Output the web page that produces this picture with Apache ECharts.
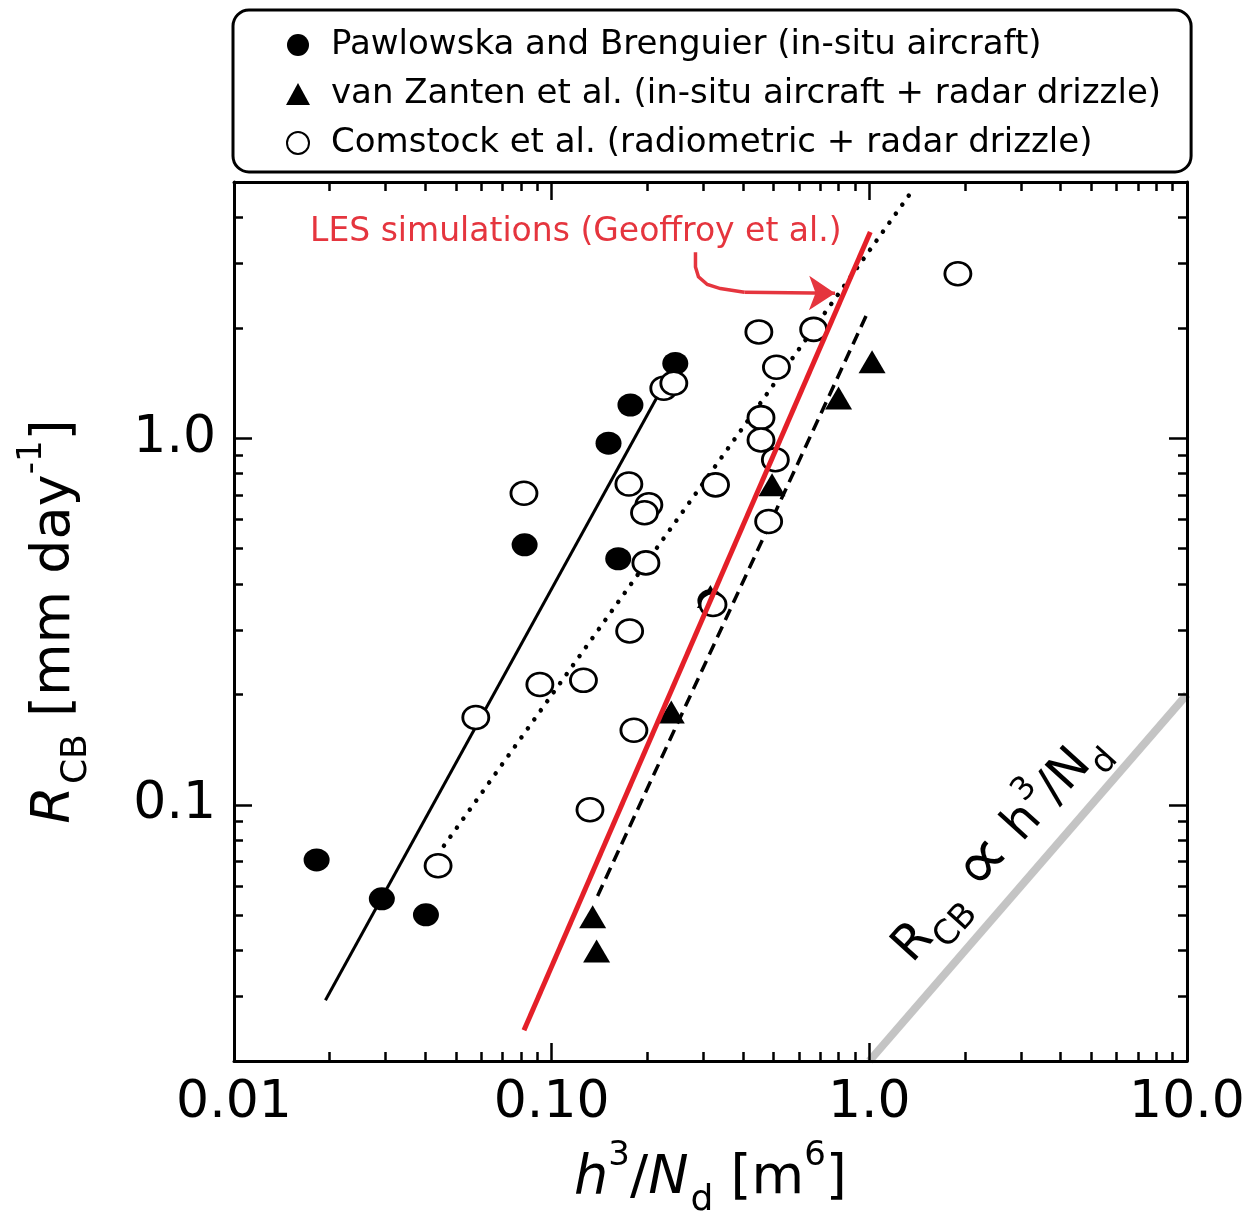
<!DOCTYPE html>
<html><head><meta charset="utf-8">
<script src="https://cdn.jsdelivr.net/npm/echarts@6/dist/echarts.min.js"></script>
<style>html,body{margin:0;padding:0;background:#fff}#c{width:1255px;height:1220px}</style>
</head><body><div id="c"></div>
<script>
const FONT = '"DejaVu Sans", "Open Sans", sans-serif';

// ---- axes ----
const xTickValues = [0.01, 0.1, 1, 10];
const xTickLabels = ['0.01', '0.10', '1.0', '10.0'];
const xMinorTicks = [0.02,0.03,0.04,0.05,0.06,0.07,0.08,0.09,0.2,0.3,0.4,0.5,0.6,0.7,0.8,0.9,2,3,4,5,6,7,8,9];
const yTickValues = [0.1, 1];
const yTickLabels = ['0.1', '1.0'];
const yMinorTicks = [0.02,0.03,0.04,0.05,0.06,0.07,0.08,0.09,0.2,0.3,0.4,0.5,0.6,0.7,0.8,0.9,2,3,4,5];

// ---- data ----
const pawX = [0.0182, 0.0292, 0.0402, 0.0822, 0.151, 0.177, 0.245, 0.162, 0.316];
const pawY = [0.0707, 0.0554, 0.0501, 0.512, 0.969, 1.232, 1.600, 0.469, 0.360];

const vzX = [0.1346, 0.1385, 0.238, 0.316, 0.494, 0.80, 1.02];
const vzY = [0.0495, 0.0399, 0.179, 0.370, 0.746, 1.288, 1.616];

const comX = [0.0439, 0.0577, 0.0918, 0.1259, 0.176, 0.1815, 0.132, 0.0818, 0.175, 0.2023, 0.196, 0.198, 0.2254, 0.2424, 0.322, 0.328, 0.449, 0.668, 0.510, 0.456, 0.456, 0.506, 0.482, 1.90];
const comY = [0.0682, 0.173, 0.213, 0.2185, 0.298, 0.1597, 0.0969, 0.708, 0.750, 0.658, 0.626, 0.457, 1.368, 1.412, 0.352, 0.746, 1.950, 1.981, 1.561, 1.138, 0.989, 0.873, 0.593, 2.81];

// fit lines (end points)
const pawFitX = [0.0194, 0.215];
const pawFitY = [0.0293, 1.298];
const comFitX = [0.0458, 1.378];
const comFitY = [0.0773, 4.79];
const vzFitX = [0.1395, 0.9856];
const vzFitY = [0.0564, 2.193];
const lesX = [0.0818, 1.007];
const lesY = [0.02426, 3.65];
const propX = [1, 10];
const propY = [0.02, 0.2];

// annotation arrow: curved stem, then straight shaft with head
const arrowCurveX = [0.2836, 0.2836, 0.2898, 0.3090, 0.3396, 0.4045];
const arrowCurveY = [3.215, 2.932, 2.757, 2.626, 2.560, 2.500];
const arrowShaftX = [0.4045, 0.78];
const arrowShaftY = [2.500, 2.486];

const names = [
  'Pawlowska and Brenguier (in-situ aircraft)',
  'van Zanten et al. (in-situ aircraft + radar drizzle)',
  'Comstock et al. (radiometric + radar drizzle)'
];

const zip = (a, b) => a.map((v, i) => [v, b[i]]);
const ELLIPSE = 'path://M0,10a10,10 0 1,0 20,0a10,10 0 1,0 -20,0';

function fmt(values, labels) {
  return v => {
    const i = values.findIndex(t => Math.abs(Math.log10(t / v)) < 0.01);
    return i >= 0 ? labels[i] : '';
  };
}

function axis(kind, pos, ticks, len, withLine, labelCfg) {
  const isX = kind === 'x';
  const a = {
    type: 'log', logBase: 10,
    min: isX ? 0.01 : 0.02, max: isX ? 10 : 5,
    position: pos,
    axisLine: { show: withLine, lineStyle: { color: '#000', width: 3 } },
    axisTick: { show: true, inside: true, length: len, customValues: ticks,
                lineStyle: { color: '#000', width: 2.5 } },
    axisLabel: { show: false },
    splitLine: { show: false },
    minorTick: { show: false },
    minorSplitLine: { show: false },
    z: 10
  };
  if (labelCfg) Object.assign(a, labelCfg);
  return a;
}

const rich = {
  i: { fontStyle: 'italic', fontSize: 54, fontFamily: FONT, color: '#000', lineHeight: 80, verticalAlign: 'middle' },
  n: { fontSize: 54, fontFamily: FONT, color: '#000', lineHeight: 80, verticalAlign: 'middle' },
  s: { fontSize: 36, fontFamily: FONT, color: '#000', lineHeight: 40, verticalAlign: 'bottom', padding: [0, 0, 0, 2] },
  p: { fontSize: 34, fontFamily: FONT, color: '#000', lineHeight: 42, verticalAlign: 'top' }
};

const chart = echarts.init(document.getElementById('c'), null, { renderer: 'canvas' });
chart.setOption({
  animation: false,
  backgroundColor: '#fff',
  grid: { left: 234, top: 182, width: 953, height: 879, outerBoundsMode: 'none', containLabel: false },
  legend: {
    orient: 'vertical', left: 233, top: 10,
    padding: [15, 30, 9, 53],
    itemGap: 9, itemWidth: 24, itemHeight: 22,
    borderColor: '#000', borderWidth: 3, borderRadius: 16,
    selectedMode: false,
    textStyle: { fontSize: 34, fontFamily: FONT, color: '#000', padding: [0, 0, 0, 16], lineHeight: 40 },
    data: names
  },
  xAxis: [
    axis('x', 'bottom', xTickValues, 18, true, {
      axisLabel: { show: true, customValues: xTickValues, formatter: fmt(xTickValues, xTickLabels),
                   fontSize: 52, fontFamily: FONT, color: '#000', margin: 16 },
      name: '{i|h}{p|3}{n|/}{i|N}{s|d}{n| [m}{p|6}{n|]}',
      nameLocation: 'middle', nameGap: 78,
      nameTextStyle: { fontSize: 54, fontFamily: FONT, color: '#000', lineHeight: 80, rich: rich }
    }),
    axis('x', 'bottom', xMinorTicks, 9, false),
    axis('x', 'top', xTickValues, 18, true),
    axis('x', 'top', xMinorTicks, 9, false)
  ],
  yAxis: [
    axis('y', 'left', yTickValues, 18, true, {
      axisLabel: { show: true, customValues: yTickValues, formatter: fmt(yTickValues, yTickLabels),
                   fontSize: 52, fontFamily: FONT, color: '#000', margin: 18 },
      name: '{i|R}{s|CB}{n| [mm day}{p|-1}{n|]}',
      nameLocation: 'middle', nameRotate: 90, nameGap: 139,
      nameTextStyle: { fontSize: 54, fontFamily: FONT, color: '#000', lineHeight: 80, rich: rich }
    }),
    axis('y', 'left', yMinorTicks, 9, false),
    axis('y', 'right', yTickValues, 18, true),
    axis('y', 'right', yMinorTicks, 9, false)
  ],
  graphic: [
    { type: 'text', left: 310, top: 216, z: 100,
      style: { text: 'LES simulations (Geoffroy et al.)', fill: '#e5353e', font: '33px ' + FONT } },
    { type: 'text', x: 1000, y: 848, rotation: 0.834, z: 100,
      style: {
        text: '{r|R}{s|CB}{r| }{q|\u221D}{r| h}{p|3}{r|/N}{s|d}',
        align: 'center', verticalAlign: 'middle',
        rich: {
          r: { fontSize: 49, fontFamily: FONT, fill: '#000', color: '#000', lineHeight: 74, verticalAlign: 'middle' },
          q: { fontSize: 72, fontFamily: FONT, fill: '#000', color: '#000', lineHeight: 74, verticalAlign: 'middle' },
          s: { fontSize: 34, fontFamily: FONT, fill: '#000', color: '#000', lineHeight: 38, verticalAlign: 'bottom' },
          p: { fontSize: 32, fontFamily: FONT, fill: '#000', color: '#000', lineHeight: 40, verticalAlign: 'top' }
        }
      } }
  ],
  series: [
    { type: 'line', data: zip(propX, propY), showSymbol: false, symbol: 'none', silent: true,
      lineStyle: { color: '#c4c4c4', width: 8 }, z: 1 },
    { type: 'line', data: zip(pawFitX, pawFitY), symbol: 'none', silent: true,
      lineStyle: { color: '#000', width: 3 }, z: 2 },
    { type: 'line', data: zip(comFitX, comFitY), symbol: 'none', silent: true,
      lineStyle: { color: '#000', width: 4.5, type: [0.1, 11], cap: 'round' }, z: 2 },
    { type: 'line', data: zip(vzFitX, vzFitY), symbol: 'none', silent: true,
      lineStyle: { color: '#000', width: 3.5, type: [12, 7] }, z: 2 },
    { name: names[0], type: 'scatter', data: zip(pawX, pawY), symbol: ELLIPSE, symbolSize: [26, 23],
      itemStyle: { color: '#000', opacity: 1 }, z: 3 },
    { name: names[1], type: 'scatter', data: zip(vzX, vzY), symbol: 'triangle', symbolSize: [27, 23],
      itemStyle: { color: '#000', opacity: 1 }, z: 3 },
    { name: names[2], type: 'scatter', data: zip(comX, comY), symbol: ELLIPSE, symbolSize: [26, 23],
      itemStyle: { color: '#fff', borderColor: '#000', borderWidth: 2.7, opacity: 1 }, z: 4 },
    { type: 'line', data: zip(lesX, lesY), symbol: 'none', silent: true,
      lineStyle: { color: '#e41f28', width: 5 }, z: 6 },
    { type: 'lines', coordinateSystem: 'cartesian2d', polyline: true, silent: true, z: 6,
      lineStyle: { color: '#e5353e', width: 3.5, opacity: 1 },
      data: [{ coords: zip(arrowCurveX, arrowCurveY) }] },
    { type: 'lines', coordinateSystem: 'cartesian2d', silent: true, z: 6,
      symbol: ['none', 'arrow'], symbolSize: [18, 26],
      lineStyle: { color: '#e5353e', width: 3.5, opacity: 1 },
      data: [{ coords: zip(arrowShaftX, arrowShaftY) }] }
  ]
});
</script></body></html>
